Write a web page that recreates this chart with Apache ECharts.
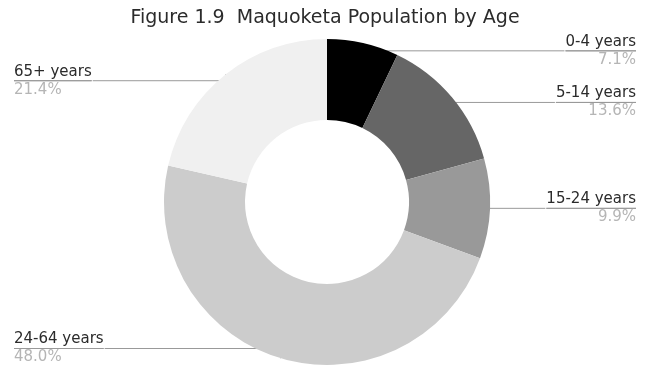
<!DOCTYPE html>
<html>
<head>
<meta charset="utf-8">
<script src="https://cdn.jsdelivr.net/npm/echarts@6/dist/echarts.min.js"></script>
<style>html,body{margin:0;padding:0;background:#fff;}#c{width:650px;height:366px;}</style>
</head>
<body>
<div id="c"></div>
<script>
const titleText = 'Figure 1.9  Maquoketa Population by Age';
const categories = ['0-4 years', '5-14 years', '15-24 years', '24-64 years', '65+ years'];
const values = [7.1, 13.6, 9.9, 48.0, 21.4];
const colors = ['#000000', '#666666', '#999999', '#cccccc', '#f0f0f0'];

const chart = echarts.init(document.getElementById('c'), null, {renderer: 'canvas'});
const total = values.reduce((a, b) => a + b, 0);
chart.setOption({
  animation: false,
  backgroundColor: '#ffffff',
  title: {
    text: titleText,
    left: 'center',
    top: 4,
    textStyle: {fontFamily: 'DejaVu Sans', fontSize: 19, fontWeight: 'normal', color: '#2b2b2b'}
  },
  series: [{
    type: 'pie',
    center: [327, 202],
    radius: [82, 163],
    startAngle: 90,
    clockwise: true,
    avoidLabelOverlap: true,
    data: categories.map((c, i) => ({name: c, value: values[i], itemStyle: {color: colors[i]}})),
    label: {
      show: true,
      alignTo: 'edge',
      edgeDistance: 14,
      distanceToLabelLine: 0,
      fontFamily: 'DejaVu Sans',
      formatter: p => '{name|' + p.name + '}\n{hr|}\n{pct|' + (p.value / total * 100).toFixed(1) + '%}',
      rich: {
        name: {fontFamily: 'DejaVu Sans', fontSize: 15, color: '#2b2b2b', lineHeight: 18},
        hr: {width: '100%', height: 0, borderWidth: 1, borderColor: '#999999'},
        pct: {fontFamily: 'DejaVu Sans', fontSize: 15, color: '#b5b5b5', lineHeight: 18}
      }
    },
    labelLine: {
      show: true,
      length: -8,
      length2: 10,
      minTurnAngle: 0,
      maxSurfaceAngle: 180,
      lineStyle: {color: '#999999', width: 1}
    },
    emphasis: {disabled: true}
  }]
});
</script>
</body>
</html>
